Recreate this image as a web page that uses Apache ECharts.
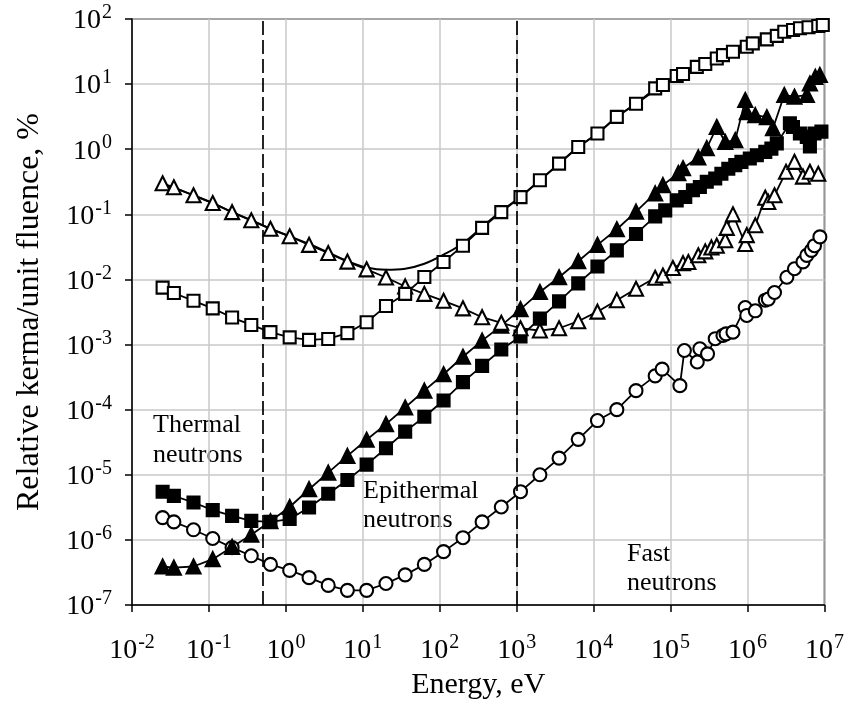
<!DOCTYPE html>
<html>
<head>
<meta charset="utf-8">
<script src="https://cdn.jsdelivr.net/npm/echarts@6/dist/echarts.min.js"></script>
<style>
    html, body {margin: 0; padding: 0; background: #fff;}
    #app {width: 847px; height: 717px;}
</style>
</head>
<body>
<div id="app"></div>
<script>
// 公共能量网格 (eV)
let eGrid = [0.025, 0.035, 0.063, 0.112, 0.2, 0.355, 0.63, 1.12, 2, 3.55, 6.3, 11.2, 20, 35.5, 63, 112, 200, 355, 630, 1120, 2000, 3550, 6300, 11200, 20000, 35500, 63000];

// 空心方块
let openSqLow = [0.0075, 0.0062, 0.0047, 0.0036, 0.0026, 0.0020, 0.00155, 0.00129, 0.00118, 0.00122, 0.0015, 0.0022, 0.0039, 0.0060, 0.0109, 0.0185, 0.033, 0.062, 0.108, 0.184, 0.333, 0.60, 1.08, 1.74, 3.14, 5.0, 8.6];
let openSqHighE = [79400, 120000, 145000, 219000, 282000, 398000, 479000, 646000, 977000, 1170000, 1780000, 2400000, 3000000, 3900000, 4800000, 6200000, 8300000, 9500000];
let openSqHighV = [9.7, 13.3, 14.3, 18.4, 20.4, 24.8, 27.9, 31.4, 37.5, 42.3, 48.7, 55, 63.8, 67.7, 72, 74.5, 78, 81];

// 平滑总和曲线
let totalE = [0.025, 0.035, 0.063, 0.112, 0.2, 0.355, 0.63, 1.12, 2, 3.55, 6.3, 11.2, 20, 35.5, 63, 112, 200, 355, 630, 1120, 2000, 3550, 6300, 11200, 20000, 40000, 107000, 290000, 800000, 2100000, 6000000, 10000000];
let totalV = [0.29, 0.255, 0.196, 0.149, 0.108, 0.081, 0.060, 0.046, 0.035, 0.026, 0.0192, 0.0153, 0.0141, 0.0146, 0.0174, 0.024, 0.036, 0.064, 0.112, 0.186, 0.335, 0.60, 1.08, 1.74, 3.14, 5.5, 12.2, 23.4, 37.5, 57, 81, 97];

// 空心三角
let openTriLow = [0.30, 0.26, 0.196, 0.149, 0.108, 0.081, 0.060, 0.046, 0.034, 0.0255, 0.0188, 0.0143, 0.0107, 0.0078, 0.0060, 0.0047, 0.0036, 0.00263, 0.00216, 0.00178, 0.00164, 0.00178, 0.00228, 0.0032, 0.0048, 0.0072, 0.0106];
let openTriHighE = [79400, 107000, 145000, 170000, 229000, 282000, 339000, 398000, 513000, 537000, 646000, 933000, 977000, 1260000, 1700000, 1860000, 2240000, 3160000, 4070000, 5250000, 6460000, 8300000];
let openTriHighV = [0.0115, 0.0150, 0.0178, 0.0185, 0.0235, 0.027, 0.031, 0.033, 0.040, 0.062, 0.100, 0.035, 0.048, 0.068, 0.18, 0.155, 0.196, 0.45, 0.64, 0.38, 0.45, 0.42];

// 实心三角
let fillTriLow = [3.9e-7, 3.75e-7, 3.9e-7, 5.05e-7, 7.8e-7, 1.2e-6, 1.93e-6, 3.2e-6, 6.0e-6, 1.08e-5, 1.95e-5, 3.45e-5, 6.0e-5, 1.08e-4, 1.96e-4, 3.5e-4, 6.5e-4, 1.15e-3, 1.95e-3, 3.5e-3, 6.4e-3, 0.0108, 0.019, 0.034, 0.059, 0.11, 0.21];
let fillTriHighE = [79400, 126000, 145000, 229000, 295000, 398000, 513000, 692000, 933000, 977000, 1260000, 1780000, 2140000, 3000000, 4070000, 5900000, 6460000, 7600000, 8700000];
let fillTriHighV = [0.28, 0.43, 0.51, 0.75, 1.04, 2.19, 1.29, 1.38, 5.7, 3.7, 3.33, 3.1, 2.1, 6.8, 6.4, 6.8, 10.2, 12.9, 13.8];

// 实心方块
let fillSqLow = [5.5e-6, 4.75e-6, 3.75e-6, 2.86e-6, 2.34e-6, 1.96e-6, 1.89e-6, 2.09e-6, 3.14e-6, 5.1e-6, 8.3e-6, 1.43e-5, 2.56e-5, 4.6e-5, 7.8e-5, 1.38e-4, 2.65e-4, 4.7e-4, 8.4e-4, 1.33e-3, 2.5e-3, 4.6e-3, 8.7e-3, 0.0158, 0.028, 0.050, 0.093];
let fillSqHighE = [85100, 120000, 155000, 195000, 240000, 295000, 380000, 457000, 562000, 692000, 832000, 1070000, 1320000, 1700000, 2040000, 2400000, 3550000, 3890000, 4790000, 5890000, 6460000, 7410000, 9120000];
let fillSqHighV = [0.115, 0.164, 0.185, 0.234, 0.263, 0.316, 0.355, 0.42, 0.50, 0.57, 0.64, 0.72, 0.81, 0.91, 1.02, 1.23, 2.5, 2.2, 1.74, 1.55, 1.1, 1.74, 1.86];

// 空心圆
let openCircLow = [2.2e-6, 1.89e-6, 1.43e-6, 1.05e-6, 7.6e-7, 5.7e-7, 4.2e-7, 3.4e-7, 2.63e-7, 2.0e-7, 1.68e-7, 1.68e-7, 2.14e-7, 2.9e-7, 4.2e-7, 6.6e-7, 1.08e-6, 1.89e-6, 3.2e-6, 5.5e-6, 1.0e-5, 1.8e-5, 3.5e-5, 6.8e-5, 1.0e-4, 1.96e-4, 3.3e-4];
let openCircHighE = [77600, 132000, 151000, 222000, 240000, 302000, 380000, 479000, 525000, 646000, 933000, 977000, 1260000, 1700000, 1860000, 2240000, 3240000, 4070000, 5250000, 5890000, 6760000, 7410000, 8710000];
let openCircHighV = [4.2e-4, 2.34e-4, 8.1e-4, 5.4e-4, 8.6e-4, 7.2e-4, 1.23e-3, 1.38e-3, 1.46e-3, 1.55e-3, 3.7e-3, 2.8e-3, 3.3e-3, 4.8e-3, 5.0e-3, 6.3e-3, 0.0108, 0.0146, 0.0186, 0.0234, 0.028, 0.033, 0.045];

// 区域分界 (eV)
let boundaries = [0.5, 1000];

let FONT = '"Liberation Serif", "Times New Roman", serif';

// 组合成 [x, y]
let pairs = (e, v) => e.map((x, i) => [x, v[i]]);

// 10^n 标签
let powLabel = (v) => "{b|10}{s|" + Math.round(Math.log10(v)) + "}";
let labelRich = {
    b: {fontFamily: FONT, fontSize: 28, color: "#000", lineHeight: 32, verticalAlign: "bottom"},
    s: {fontFamily: FONT, fontSize: 20, color: "#000", lineHeight: 20, verticalAlign: "top", padding: [0, 0, 0, 1]}
};

let markerSeries = (name, data, symbol, size, filled) => ({
    name: name,
    type: "line",
    data: data,
    symbol: symbol,
    symbolSize: size,
    showAllSymbol: true,
    lineStyle: {color: "#000", width: 1.8},
    itemStyle: {color: filled ? "#000" : "#fff", borderColor: "#000", borderWidth: 2.1},
    emphasis: {disabled: true}
});

let chart = echarts.init(document.querySelector("#app"));
chart.setOption({
    animation: false,
    grid: {left: 132, right: 22, top: 19, bottom: 112, show: true, borderColor: "#000", borderWidth: 1.5},
    xAxis: {
        type: "log",
        logBase: 10,
        min: 0.01,
        max: 1e7,
        splitNumber: 9,
        name: "Energy, eV",
        nameLocation: "middle",
        nameGap: 64,
        nameTextStyle: {fontFamily: FONT, fontSize: 30, color: "#000"},
        axisLine: {lineStyle: {color: "#000", width: 1.5}},
        axisTick: {show: true, length: 7, lineStyle: {color: "#000", width: 1.5}},
        axisLabel: {margin: 28, formatter: powLabel, rich: labelRich, showMinLabel: true, showMaxLabel: true},
        splitLine: {show: true, lineStyle: {color: "#c8c8c8", width: 1.5}}
    },
    yAxis: {
        type: "log",
        logBase: 10,
        min: 1e-7,
        max: 100,
        splitNumber: 9,
        name: "Relative kerma/unit fluence, %",
        nameLocation: "middle",
        nameGap: 86,
        nameTextStyle: {fontFamily: FONT, fontSize: 32, color: "#000"},
        axisLine: {lineStyle: {color: "#000", width: 1.5}},
        axisTick: {show: true, length: 7, lineStyle: {color: "#000", width: 1.5}},
        axisLabel: {margin: 20, formatter: powLabel, rich: labelRich, showMinLabel: true, showMaxLabel: true},
        splitLine: {show: true, lineStyle: {color: "#c8c8c8", width: 1.5}}
    },
    graphic: [
        {type: "text", left: 153, top: 410, style: {text: "Thermal\nneutrons", font: "26px " + FONT, fill: "#000", lineHeight: 30}},
        {type: "text", left: 363, top: 477, style: {text: "Epithermal\nneutrons", font: "26px " + FONT, fill: "#000", lineHeight: 29}},
        {type: "text", left: 627, top: 540, style: {text: "Fast\nneutrons", font: "26px " + FONT, fill: "#000", lineHeight: 29}}
    ],
    series: [
        Object.assign(markerSeries("openCirc", pairs(eGrid.concat(openCircHighE), openCircLow.concat(openCircHighV)), "circle", 13, false), {
            markLine: {
                silent: true,
                symbol: "none",
                label: {show: false},
                lineStyle: {color: "#000", width: 1.7, type: [14, 5]},
                data: boundaries.map(b => ({xAxis: b}))
            }
        }),
        markerSeries("fillSq", pairs(eGrid.concat(fillSqHighE), fillSqLow.concat(fillSqHighV)), "rect", 12, true),
        markerSeries("fillTri", pairs(eGrid.concat(fillTriHighE), fillTriLow.concat(fillTriHighV)), "triangle", 14, true),
        markerSeries("openTri", pairs(eGrid.concat(openTriHighE), openTriLow.concat(openTriHighV)), "triangle", 14, false),
        markerSeries("openSq", pairs(eGrid.concat(openSqHighE), openSqLow.concat(openSqHighV)), "rect", 12, false),
        {
            name: "total",
            type: "line",
            data: pairs(totalE, totalV),
            smooth: 0.4,
            symbol: "none",
            lineStyle: {color: "#000", width: 2},
            emphasis: {disabled: true}
        }
    ]
});
</script>
</body>
</html>
